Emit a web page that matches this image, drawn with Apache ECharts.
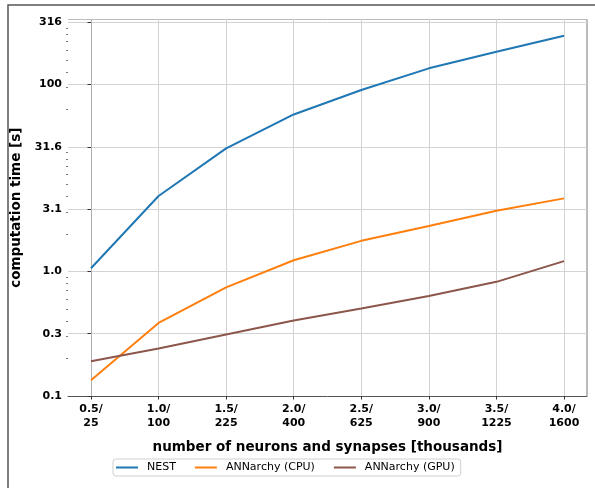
<!DOCTYPE html>
<html>
<head>
<meta charset="utf-8">
<script src="https://cdn.jsdelivr.net/npm/echarts@6/dist/echarts.min.js"></script>
<style>
html,body{margin:0;padding:0;background:#fff;}
#chart{width:595px;height:488px;}
</style>
</head>
<body>
<div id="chart"></div>
<script>
var categories = ['0.5/\n25', '1.0/\n100', '1.5/\n225', '2.0/\n400', '2.5/\n625', '3.0/\n900', '3.5/\n1225', '4.0/\n1600'];
var nest = [1.06, 4.03, 9.73, 18.2, 28.6, 42.7, 58.1, 78.0];
var annCpu = [0.134, 0.386, 0.744, 1.23, 1.76, 2.32, 3.07, 3.86];
var annGpu = [0.190, 0.241, 0.312, 0.404, 0.504, 0.634, 0.825, 1.21];
var yTickValues = [0.1, 0.3162, 1, 3.162, 10, 31.62, 100];
var yTickLabels = ['0.1', '0.3', '1.0', '3.1', '31.6', '100', '316'];
var yMinorTicks = [0.2, 0.3, 0.4, 0.5, 0.6, 0.7, 0.8, 0.9, 2, 3, 4, 5, 6, 7, 8, 9, 20, 30, 40, 50, 60, 70, 80, 90];
var xTickValues = [0, 1, 2, 3, 4, 5, 6, 7];

var FONT = 'DejaVu Sans';
var chart = echarts.init(document.getElementById('chart'), null, {renderer: 'canvas'});

function yLabel(v) {
  var best = 0, bd = 1e9;
  for (var i = 0; i < yTickValues.length; i++) {
    var d = Math.abs(Math.log10(v) - Math.log10(yTickValues[i]));
    if (d < bd) { bd = d; best = i; }
  }
  return bd < 0.05 ? yTickLabels[best] : '';
}

function toPairs(arr) { return arr.map(function (v, i) { return [i, v]; }); }

var option = {
  animation: false,
  backgroundColor: '#fff',
  grid: {left: 68, right: 8, top: 19.5, bottom: 92, containLabel: false},
  legend: {
    left: 113, top: 459,
    orient: 'horizontal',
    itemWidth: 22, itemHeight: 12, itemGap: 19,
    padding: [3, 6, 3, 3],
    borderColor: '#d0d0d0', borderWidth: 1, borderRadius: 3,
    backgroundColor: '#fff',
    icon: 'path://M0,5 L22,5 L22,7 L0,7 Z',
    textStyle: {fontFamily: FONT, fontSize: 11, color: '#000', padding: [0, 0, 0, 4]},
    data: ['NEST', 'ANNarchy (CPU)', 'ANNarchy (GPU)']
  },
  xAxis: {
    type: 'value', min: -0.34, max: 7.34,
    name: 'number of neurons and synapses [thousands]',
    nameLocation: 'middle', nameGap: 44,
    nameTextStyle: {fontFamily: FONT, fontSize: 13.5, fontWeight: 'bold', color: '#000'},
    axisLine: {show: true, lineStyle: {color: '#555', width: 1}},
    axisTick: {show: true, length: 3.5, customValues: xTickValues, lineStyle: {color: '#333'}},
    axisLabel: {
      customValues: xTickValues, margin: 6,
      fontFamily: FONT, fontSize: 11, fontWeight: 'bold', color: '#000', lineHeight: 14,
      formatter: function (v) { return categories[Math.round(v)]; }
    },
    splitLine: {show: true, lineStyle: {color: '#d3d3d3', width: 1}}
  },
  yAxis: [{
    type: 'log', logBase: 10, min: 0.1, max: 105.3,
    name: 'computation time [s]',
    nameLocation: 'middle', nameGap: 34, nameRotate: 90,
    nameTextStyle: {fontFamily: FONT, fontSize: 13.5, fontWeight: 'bold', color: '#000'},
    axisLine: {show: true, lineStyle: {color: '#b0b0b0', width: 1}},
    axisTick: {show: true, length: 3.5, customValues: yTickValues, lineStyle: {color: '#333'}},
    axisLabel: {
      customValues: yTickValues, margin: 6,
      fontFamily: FONT, fontSize: 11, fontWeight: 'bold', color: '#000',
      formatter: yLabel
    },
    splitLine: {show: true, lineStyle: {color: '#d3d3d3', width: 1}}
  }, {
    type: 'log', logBase: 10, min: 0.1, max: 105.3,
    position: 'left', offset: 0,
    axisLine: {show: false},
    axisTick: {show: true, length: 2, customValues: yMinorTicks, lineStyle: {color: '#555', width: 0.8}},
    axisLabel: {show: false},
    splitLine: {show: false}
  }],
  graphic: [
    {type: 'rect', shape: {x: 8, y: 5, width: 700, height: 700}, style: {fill: 'none', stroke: '#555', lineWidth: 1.5}, silent: true},
    {type: 'line', shape: {x1: 68, y1: 19.5, x2: 587, y2: 19.5}, style: {stroke: '#bdbdbd', lineWidth: 1}, silent: true},
    {type: 'line', shape: {x1: 587, y1: 19.5, x2: 587, y2: 396}, style: {stroke: '#777', lineWidth: 1}, silent: true}
  ],
  series: [
    {name: 'NEST', type: 'line', data: toPairs(nest), showSymbol: false, symbol: 'none',
     lineStyle: {color: '#1f77b4', width: 2}, itemStyle: {color: '#1f77b4'}},
    {name: 'ANNarchy (CPU)', type: 'line', data: toPairs(annCpu), showSymbol: false, symbol: 'none',
     lineStyle: {color: '#ff7f0e', width: 2}, itemStyle: {color: '#ff7f0e'}},
    {name: 'ANNarchy (GPU)', type: 'line', data: toPairs(annGpu), showSymbol: false, symbol: 'none',
     lineStyle: {color: '#8c564b', width: 2}, itemStyle: {color: '#8c564b'}}
  ]
};
chart.setOption(option);
</script>
</body>
</html>
